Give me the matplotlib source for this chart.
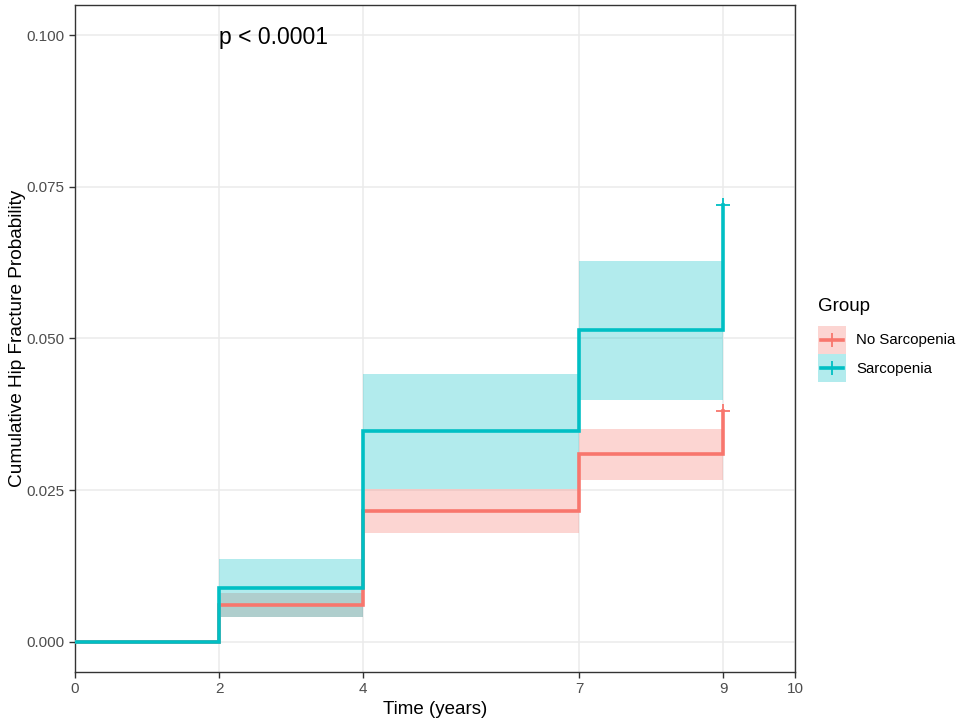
import matplotlib
matplotlib.use("Agg")
import matplotlib.pyplot as plt
from matplotlib.patches import Rectangle
from matplotlib.lines import Line2D
from matplotlib.legend_handler import HandlerBase

plt.rcParams['font.family'] = ['Liberation Sans', 'DejaVu Sans']

# Step data (time at which each level starts)
groups = ["No Sarcopenia", "Sarcopenia"]
colors = ["#F8766D", "#00BFC4"]

times = [0, 2, 4, 7, 9]
no_sarc_est = [0.0, 0.0061, 0.0216, 0.0309, 0.0380]
no_sarc_lo = [0.0, 0.0041, 0.0180, 0.0267, 0.0380]
no_sarc_hi = [0.0, 0.0080, 0.0252, 0.0351, 0.0380]

sarc_est = [0.0, 0.0088, 0.0347, 0.0514, 0.0720]
sarc_lo = [0.0, 0.0041, 0.0252, 0.0398, 0.0720]
sarc_hi = [0.0, 0.0137, 0.0441, 0.0628, 0.0720]

censor_time = 9

x_ticks = [0, 2, 4, 7, 9, 10]
y_ticks = [0.000, 0.025, 0.050, 0.075, 0.100]
y_tick_labels = ["0.000", "0.025", "0.050", "0.075", "0.100"]


class KeyHandler(HandlerBase):
    def create_artists(self, legend, orig_handle, xdescent, ydescent, width, height, fontsize, trans):
        col = orig_handle.get_color()
        rect = Rectangle((-xdescent, -ydescent), width, height, facecolor=col, alpha=0.3,
                         edgecolor='none', transform=trans)
        yc = -ydescent + height / 2
        line = Line2D([-xdescent + 0.1 * width, -xdescent + 0.9 * width], [yc, yc], color=col,
                      linewidth=2.6, transform=trans)
        mark = Line2D([-xdescent + width / 2], [yc], marker='+', markersize=10,
                      markeredgewidth=1.3, color=col, linestyle='none', transform=trans)
        return [rect, line, mark]


fig = plt.figure(figsize=(9.62, 7.23), dpi=100)
ax = fig.add_axes([75/962, 51/723, 720/962, 667/723])

series = [(no_sarc_est, no_sarc_lo, no_sarc_hi), (sarc_est, sarc_lo, sarc_hi)]
for (est, lo, hi), col in zip(series, colors):
    ax.fill_between(times, lo, hi, step='post', color=col, alpha=0.3, linewidth=0, zorder=2)
handles = []
for (est, lo, hi), col in zip(series, colors):
    ln, = ax.step(times, est, where='post', color=col, linewidth=2.6, zorder=3, solid_joinstyle='miter')
    handles.append(ln)
    ax.plot([censor_time], [est[-1]], marker='+', color=col, markersize=10, markeredgewidth=1.3, zorder=4, linestyle='none')

ax.set_xlim(0, 10)
ax.set_ylim(-0.005, 0.105)
ax.set_xticks(x_ticks)
ax.set_xticklabels([str(t) for t in x_ticks])
ax.set_yticks(y_ticks)
ax.set_yticklabels(y_tick_labels)
ax.grid(True, color='#EBEBEB', linewidth=1.1, zorder=0)
ax.set_axisbelow(True)
for s in ax.spines.values():
    s.set_color('#333333')
    s.set_linewidth(1.0)
ax.tick_params(axis='both', direction='out', length=4, width=1, color='#333333',
               labelcolor='#4D4D4D', labelsize=11)

ax.set_xlabel("Time (years)", fontsize=13.5, color='black', labelpad=3)
ax.set_ylabel("Cumulative Hip Fracture Probability", fontsize=13.7, color='black', labelpad=0.5)

ax.text(2.0, 0.0997, "p < 0.0001", fontsize=16.5, ha='left', va='center', color='black')

leg = fig.legend(handles, groups, title="Group", loc='center left',
                 bbox_to_anchor=(818/962, 1 - 340/723), frameon=False, borderpad=0,
                 borderaxespad=0,
                 fontsize=10.8, title_fontsize=13.5, handlelength=1.85, handleheight=2.5,
                 handletextpad=0.7, labelspacing=0.05,
                 handler_map={Line2D: KeyHandler()})
leg._legend_box.align = "left"
leg._legend_box.sep = 8

fig.savefig("out.png", dpi=100)
